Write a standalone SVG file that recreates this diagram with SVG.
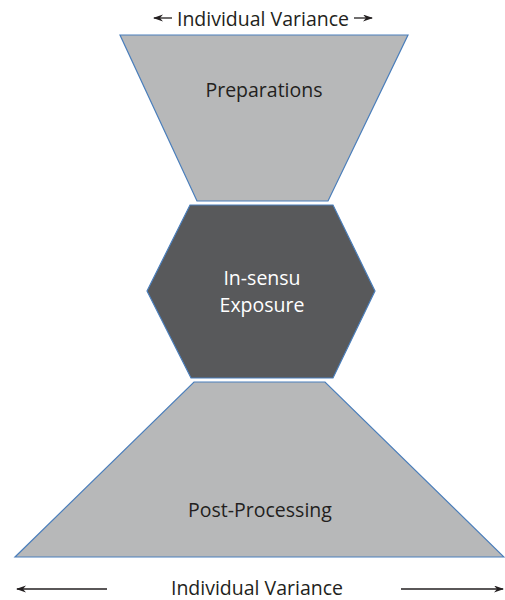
<svg xmlns="http://www.w3.org/2000/svg" width="505" height="600" viewBox="0 0 505 600">
<style>
.shape{stroke:#4A7EBB;stroke-width:1.2;stroke-linejoin:miter}
.light{fill:#B7B8B9}
.dark{fill:#58595B}
text{font-family:"Open Sans","Noto Sans",sans-serif;font-size:19.5px;text-anchor:middle}
.t-dark{fill:#231F20}
.t-light{fill:#FFFFFF}
.arrow{stroke:#231F20;stroke-width:1.3;fill:none}
</style>
<defs>
<marker id="ah" markerWidth="10" markerHeight="8" refX="9" refY="3.5" orient="auto-start-reverse" markerUnits="userSpaceOnUse">
<path d="M0,0 L10,3.5 L0,7 L3,3.5 Z" fill="#231F20"/>
</marker>
</defs>
<rect width="505" height="600" fill="#FFFFFF"/>
<g id="preparations">
<polygon class="shape light" points="120,35 408,35 328,201 197,201"/>
<text class="t-dark" x="264" y="97">Preparations</text>
</g>
<g id="exposure">
<polygon class="shape dark" points="190,205 333,205 375,291 333,378 191,378 147,291"/>
<text class="t-light" x="262" y="285">In-sensu</text>
<text class="t-light" x="262" y="312">Exposure</text>
</g>
<g id="postprocessing">
<polygon class="shape light" points="194,382 325,382 504,557 15,557"/>
<text class="t-dark" x="260" y="517">Post-Processing</text>
</g>
<g id="top-variance">
<text class="t-dark" x="263" y="26" font-size="20">Individual Variance</text>
</g>
<g id="bottom-variance">
<text class="t-dark" x="257" y="595" font-size="20">Individual Variance</text>
</g>
<g id="connectors">
<line class="arrow" x1="172" y1="18" x2="154" y2="18" marker-end="url(#ah)"/>
<line class="arrow" x1="354" y1="18" x2="372" y2="18" marker-end="url(#ah)"/>
<line class="arrow" x1="107" y1="589" x2="17" y2="589" marker-end="url(#ah)"/>
<line class="arrow" x1="401" y1="589" x2="503" y2="589" marker-end="url(#ah)"/>
</g>
</svg>
